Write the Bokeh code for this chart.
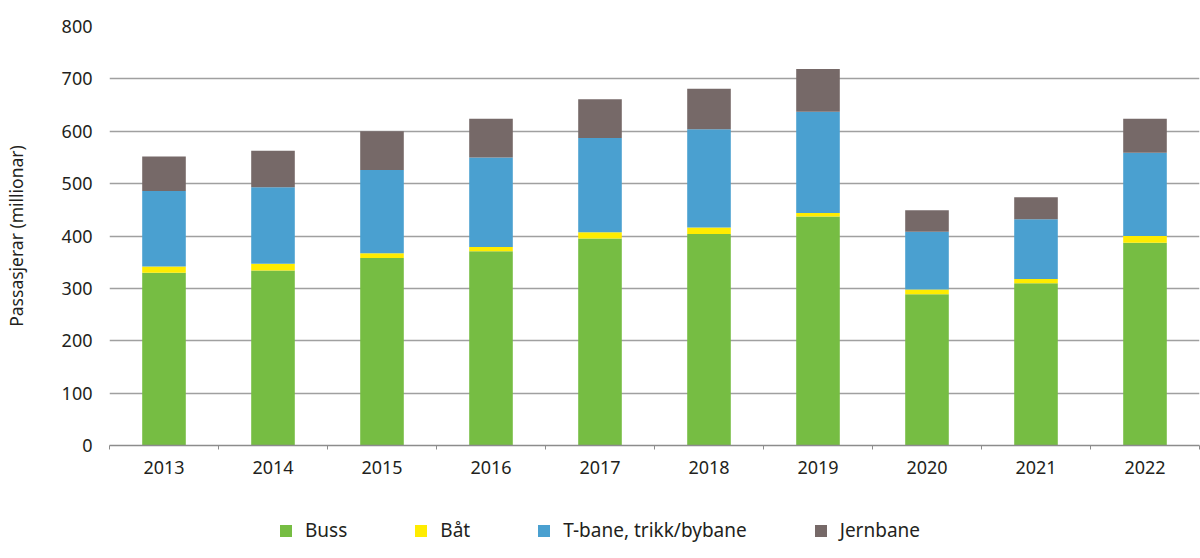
from bokeh.plotting import figure
from bokeh.layouts import column
from bokeh.models import (ColumnDataSource, FactorRange, Range1d, LinearAxis, CategoricalAxis,
                          FixedTicker, Legend, LegendItem)
from bokeh.embed import file_html
from bokeh.resources import INLINE

years = ["2013", "2014", "2015", "2016", "2017", "2018", "2019", "2020", "2021", "2022"]
buss = [330, 334, 358, 371, 395, 404, 437, 289, 310, 387]
baat = [12, 13, 9, 8, 12, 12, 7, 9, 8, 13]
tbane = [144, 146, 159, 171, 180, 188, 193, 110, 114, 159]
jernbane = [66, 70, 74, 74, 74, 77, 82, 41, 42, 65]

series = ["Buss", "Båt", "T-bane, trikk/bybane", "Jernbane"]
colors = ["#76BD43", "#FFEC00", "#4AA0D0", "#766968"]
y_ticks = [0, 100, 200, 300, 400, 500, 600, 700, 800]

FONT = "Noto Sans"
TXT = "#231F20"

source = ColumnDataSource(dict(year=years, Buss=buss, Båt=baat,
                               **{"T-bane, trikk/bybane": tbane}, Jernbane=jernbane))

p = figure(width=1200, height=490, x_range=FactorRange(factors=years, range_padding=0),
           y_range=Range1d(0, 800), output_backend="svg", toolbar_location=None,
           x_axis_location=None, min_border_left=109, min_border_right=1,
           min_border_top=26, min_border_bottom=45)
p.outline_line_color = None
p.background_fill_color = "white"
p.border_fill_color = "white"

renderers = p.vbar_stack(series, x="year", width=0.4, color=colors, line_color=None, source=source)

# y axis
ya = p.yaxis[0]
ya.ticker = FixedTicker(ticks=y_ticks)
ya.axis_line_color = None
ya.major_tick_line_color = None
ya.major_tick_out = 0
ya.major_tick_in = 0
ya.minor_tick_line_color = None
ya.minor_tick_out = 0
ya.major_label_text_font = FONT
ya.major_label_text_font_size = "18px"
ya.major_label_text_color = TXT
ya.major_label_standoff = 17
ya.axis_label = "Passasjerar (millionar)"
ya.axis_label_text_font = FONT
ya.axis_label_text_font_size = "17.5px"
ya.axis_label_text_font_style = "normal"
ya.axis_label_text_color = TXT
ya.axis_label_standoff = 31

p.ygrid.ticker = FixedTicker(ticks=y_ticks[1:])
p.ygrid.grid_line_color = "#A0A0A0"
p.ygrid.grid_line_width = 1.3
p.xgrid.grid_line_color = None

# x axis: boundary ticks (synthetic category coordinates) + category labels
bounds = list(range(len(years) + 1))
bx = LinearAxis(ticker=FixedTicker(ticks=bounds),
                major_label_overrides={i: "" for i in bounds},
                major_label_text_font_size="1px", major_label_standoff=0)
bx.axis_line_color = "#8C8C8C"
bx.axis_line_width = 1.3
bx.major_tick_line_color = "#8C8C8C"
bx.major_tick_out = 4
bx.major_tick_in = 0
bx.minor_tick_line_color = None
p.add_layout(bx, "below")

cx = CategoricalAxis()
cx.axis_line_color = None
cx.major_tick_line_color = None
cx.major_tick_out = 0
cx.major_tick_in = 0
cx.major_label_text_font = FONT
cx.major_label_text_font_size = "18px"
cx.major_label_text_color = TXT
cx.major_label_standoff = 11
p.add_layout(cx, "below")

# legend strip below the chart (same series, bars kept far outside its view; only the legend shows)
lf = figure(width=1200, height=68, x_range=FactorRange(factors=years, range_padding=0),
            y_range=Range1d(5000, 5001), output_backend="svg", toolbar_location=None,
            x_axis_location=None, y_axis_location=None,
            min_border_left=0, min_border_right=0, min_border_top=0, min_border_bottom=0)
lf.outline_line_color = None
lf.xgrid.grid_line_color = None
lf.ygrid.grid_line_color = None
swatches = lf.vbar_stack(series, x="year", width=0.4, color=colors, line_color=None, source=source)

legend = Legend(items=[LegendItem(label=s, renderers=[r]) for s, r in zip(series, swatches)],
                orientation="horizontal", location=(169, 15), padding=0, margin=0,
                spacing=66, label_standoff=12, glyph_width=15, glyph_height=15,
                border_line_color=None, background_fill_alpha=0,
                label_text_font=FONT, label_text_font_size="19px", label_text_color=TXT)
lf.add_layout(legend, "center")

layout = column(p, lf, spacing=0)
open("out.html", "w").write(file_html(layout, INLINE))
